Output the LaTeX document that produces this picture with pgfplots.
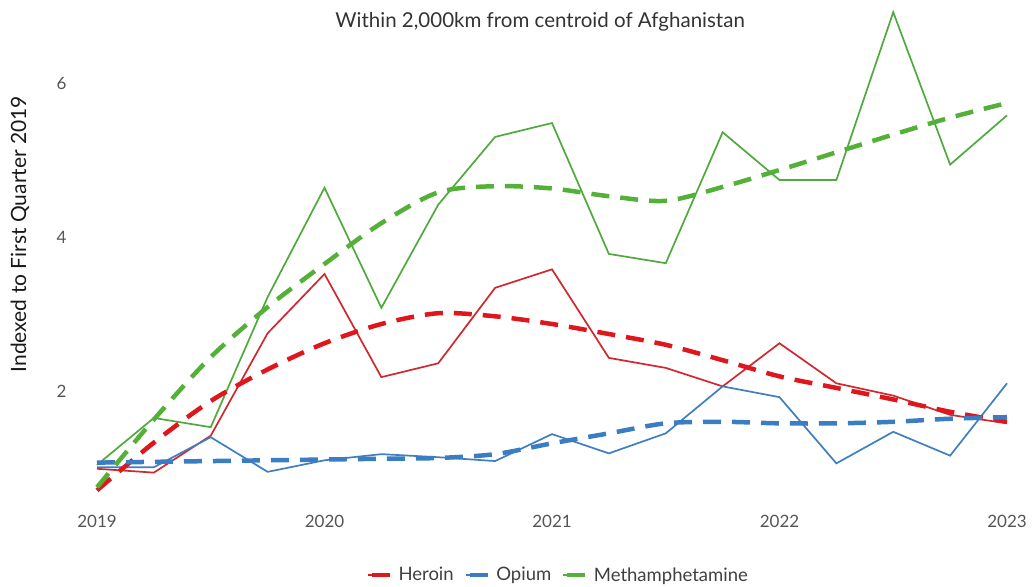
\documentclass[border=0pt]{standalone}
\usepackage{fontspec}
\setmainfont{Lato}
\usepackage{pgfplots}
\usepackage{pgfplotstable}
\pgfplotsset{compat=1.18}

\definecolor{heroinC}{HTML}{D0282E}
\definecolor{heroinT}{HTML}{E0161D}
\definecolor{opiumC}{HTML}{3F7FC0}
\definecolor{opiumT}{HTML}{3A7DC2}
\definecolor{methC}{HTML}{4FAA3E}
\definecolor{methT}{HTML}{55B03A}
\definecolor{tickgray}{HTML}{555555}

% quarterly index values (first quarter 2019 = 1)
\pgfplotstableread{
t       heroin  opium  meth
2019.00 0.99    1.01   1.04
2019.25 0.94    1.01   1.65
2019.50 1.42    1.40   1.53
2019.75 2.75    0.95   3.22
2020.00 3.52    1.10   4.64
2020.25 2.18    1.18   3.08
2020.50 2.36    1.14   4.42
2020.75 3.34    1.09   5.30
2021.00 3.58    1.44   5.48
2021.25 2.43    1.19   3.78
2021.50 2.30    1.45   3.66
2021.75 2.06    2.06   5.36
2022.00 2.62    1.92   4.74
2022.25 2.10    1.06   4.74
2022.50 1.94    1.47   6.92
2022.75 1.69    1.16   4.94
2023.00 1.58    2.10   5.58
}\rawdata

% smoothed trends
\pgfplotstableread{
t       heroin  opium  meth
2019.00 0.71    1.07   0.75
2019.25 1.33    1.08   1.63
2019.50 1.87    1.09   2.44
2019.75 2.28    1.10   3.09
2020.00 2.62    1.11   3.65
2020.25 2.87    1.12   4.18
2020.50 3.01    1.13   4.58
2020.75 2.97    1.18   4.66
2021.00 2.87    1.32   4.63
2021.25 2.74    1.45   4.53
2021.50 2.60    1.58   4.47
2021.75 2.40    1.60   4.65
2022.00 2.19    1.58   4.87
2022.25 2.04    1.58   5.10
2022.50 1.89    1.60   5.33
2022.75 1.73    1.64   5.55
2023.00 1.60    1.66   5.74
}\trenddata

\begin{document}
\begin{tikzpicture}
\path (0,0) rectangle (1036bp,587bp);
\begin{axis}[
  at={(97bp,88.2bp)}, anchor=south west,
  scale only axis, width=910bp, height=492.8bp,
  xmin=2019, xmax=2023, ymin=0.6, ymax=7.0,
  clip=false,
  axis line style={draw=none},
  major tick length=0pt,
  xtick={2019,2020,2021,2022,2023},
  ytick={2,4,6},
  xticklabel style={/pgf/number format/1000 sep={}, yshift=-13bp,
    font=\fontsize{17bp}{20bp}\selectfont, text=tickgray},
  yticklabel style={xshift=-27bp, font=\fontsize{17bp}{20bp}\selectfont, text=tickgray},
  /pgf/number format/assume math mode=true,
  title={Within 2,000km from centroid of Afghanistan},
  title style={at={(axis description cs:0.487,0.955)}, anchor=center,
    font=\fontsize{20.5bp}{24bp}\selectfont, text=black!80},
  ylabel={Indexed to First Quarter 2019},
  ylabel style={at={(axis description cs:-0.0846,0.537)}, anchor=center,
    font=\fontsize{21bp}{25bp}\selectfont, text=black!90},
  legend style={at={(axis description cs:0.507,-0.1546)}, anchor=center,
    draw=none, fill=none, legend columns=-1,
    font=\fontsize{18.5bp}{22bp}\selectfont, text=black!75,
    /tikz/every even column/.append style={column sep=9bp}},
  legend image code/.code={
    \draw[line width=1.6bp] (0bp,0bp) -- (28bp,0bp);
    \draw[line width=4.5bp] (4bp,0bp) -- (24bp,0bp);
  },
]
\addplot[heroinC, line width=1.7bp, forget plot] table[x=t, y=heroin] {\rawdata};
\addplot[opiumC, line width=1.7bp, forget plot] table[x=t, y=opium] {\rawdata};
\addplot[methC, line width=1.7bp, forget plot] table[x=t, y=meth] {\rawdata};

\addplot[heroinT, line width=4.5bp, dash pattern=on 18bp off 11bp, smooth] table[x=t, y=heroin] {\trenddata};
\addlegendentry{Heroin}
\addplot[opiumT, line width=4.5bp, dash pattern=on 18bp off 11bp, smooth] table[x=t, y=opium] {\trenddata};
\addlegendentry{Opium}
\addplot[methT, line width=4.5bp, dash pattern=on 18bp off 11bp, smooth] table[x=t, y=meth] {\trenddata};
\addlegendentry{Methamphetamine}
\end{axis}
\end{tikzpicture}
\end{document}
